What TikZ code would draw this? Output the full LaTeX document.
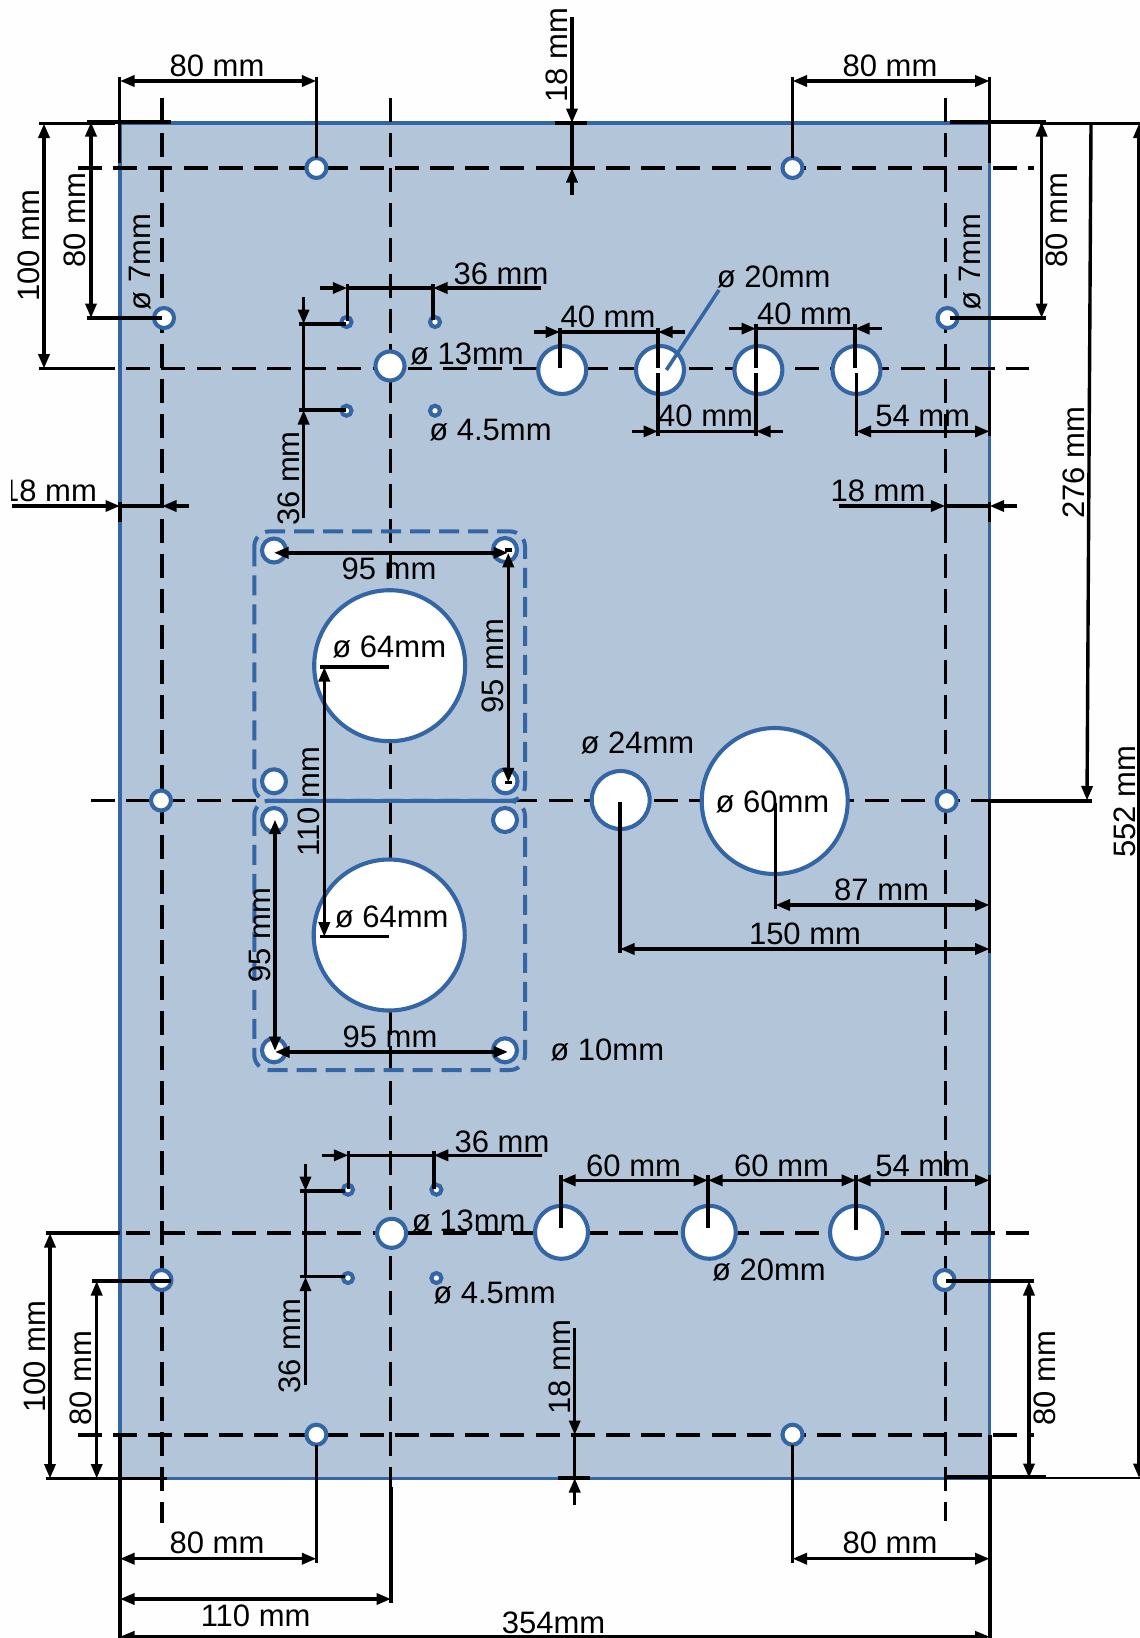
\documentclass[tikz,border=0pt]{standalone}
\usepackage{fontspec}
\setmainfont{Liberation Sans}
\usetikzlibrary{arrows.meta}
\definecolor{paper}{HTML}{FDFEFD}
\definecolor{plate}{HTML}{B3C6D9}
\definecolor{edge}{HTML}{3465A4}
\tikzset{
  ln/.style={line width=3.4pt,black},
  lnt/.style={line width=2.6pt,black},
  cl/.style={line width=3.5pt,black,dash pattern=on 24pt off 11.2pt},
  clv/.style={line width=3.5pt,black,dash pattern=on 24pt off 11.1pt},
  bothends/.style={ln,{Triangle[length=14.5pt,width=11pt]}-{Triangle[length=14.5pt,width=11pt]}},
  oneend/.style={ln,-{Triangle[length=14.5pt,width=11pt]}},
  hole/.style={circle,draw=edge,line width=4.1pt,fill=white,inner sep=0pt,outer sep=0pt},
  lab/.style={inner sep=0pt,outer sep=0pt,font=\fontsize{31}{33}\selectfont,text=black},
  vlab/.style={lab,rotate=90},
  frame/.style={draw=edge,line width=4pt,rounded corners=15pt,dash pattern=on 20pt off 9pt},
}
\newcommand{\hl}[4]{\node[hole,minimum size=#4pt] (#1) at (#2,#3) {};}
\begin{document}
\begin{tikzpicture}[x=1pt,y=-1pt]
\useasboundingbox (0,0) rectangle (1140,1638);
\clip (0,0) rectangle (1140,1638);
\fill[paper] (0,0) rectangle (1140,1638);
% plate
\draw[fill=plate,draw=edge,line width=3.6pt] (120,123) rectangle (989.6,1478.5);
% centre lines
\draw[cl] (78,168) -- (1034,168);
\draw[cl] (91,368.6) -- (1029,368.6);
\draw[cl] (91,800.5) -- (1092,800.5);
\draw[cl] (91,1233) -- (1029,1233);
\draw[cl] (78,1435) -- (1034,1435);
\draw[clv] (161.8,98) -- (161.8,1523);
\draw[clv] (390.5,98) -- (390.5,1487);
\draw[clv] (945.3,98) -- (945.3,1521);
% adapter frames
\draw[frame] (254.3,531.4) rectangle (525,800.8);
\draw[frame] (254.3,800.8) rectangle (525,1070);
\draw[draw=edge,line width=4pt] (265,800.5) -- (512,800.5);
% holes
\hl{a1}{316.4}{168}{20}\hl{a2}{792.5}{168}{20}
\hl{a3}{316.4}{1434.7}{20}\hl{a4}{792.5}{1434.7}{20}
\hl{b1}{164}{318}{20}\hl{b2}{947.5}{318}{20}
\hl{b3}{161}{800.5}{20}\hl{b4}{946.7}{801}{20}
\hl{b5}{161.5}{1280}{20}\hl{b6}{944.5}{1280}{20}
\hl{c1}{346.5}{322}{10}\hl{c2}{435}{322}{10}\hl{c3}{346.5}{410.7}{10}\hl{c4}{435}{410.7}{10}
\hl{c5}{348}{1189.7}{10}\hl{c6}{436.4}{1189.7}{10}\hl{c7}{348}{1278}{10}\hl{c8}{436.4}{1278}{10}
\hl{d1}{390}{366}{29}\hl{d2}{391.6}{1233.3}{29}
\hl{e1}{562.2}{370}{48}\hl{e2}{660}{370}{48}\hl{e3}{758.4}{370}{48}\hl{e4}{856.5}{370}{48}
\hl{e5}{561.5}{1232.3}{53}\hl{e6}{709.3}{1232.3}{53}\hl{e7}{856.5}{1232.3}{53}
\hl{f1}{620.7}{800}{58}\hl{f2}{774.7}{801}{146}
\hl{g1}{389.7}{665.7}{151}\hl{g2}{389.2}{935}{151}
\hl{k1}{274}{550.5}{24}\hl{k2}{505}{550}{24}\hl{k3}{274}{781.3}{24}\hl{k4}{505.5}{781.3}{24}
\hl{k5}{274}{820}{24}\hl{k6}{505}{820}{24}\hl{k7}{274}{1050.3}{24}\hl{k8}{505}{1050.3}{24}
% leader
\draw[draw=edge,line width=3.6pt] (666.4,370) -- (719,290);
% outside extension lines
\draw[ln] (119.6,76.8) -- (119.6,162.5);
\draw[ln] (989.6,76.8) -- (989.6,162.5);
\draw[ln] (316.4,76.8) -- (a1);
\draw[ln] (792.5,76.8) -- (a2);
\draw[bothends] (120,81) -- (316.4,81);
\draw[bothends] (792.5,81) -- (989.6,81);
\draw[ln] (39,123.5) -- (115,123.5);
\draw[ln] (86.5,122) -- (171,122);
\draw[ln] (39,368.6) -- (115,368.6);
\draw[bothends] (44,123.5) -- (44,368.6);
\draw[bothends] (91,122) -- (91,318);
\draw[ln] (86.5,318) -- (162,318);
% top 18
\draw[oneend] (572,17) -- (572,123);
\draw[ln] (572,123) -- (572,168);
\draw[oneend] (572,195) -- (572,168);
\draw[ln] (554.5,123) -- (587,123);
\draw[ln] (554.5,168) -- (587,168);
% right top
\draw[ln] (950,122) -- (1046,122);
\draw[lnt] (1040,123.5) -- (1140,123.5);
\draw[bothends] (1041.6,122) -- (1041.6,318);
\draw[ln] (950,318) -- (1046,318);
\draw[oneend] (1091,123.5) -- (1087,800.5);
\draw[ln] (989.6,801) -- (1092,801);
\draw[bothends] (1139,123.5) -- (1139,1478);
\draw[lnt] (950,1478) -- (1140,1478);
\draw[ln] (944.5,1477) -- (1046,1477);
% left bottom
\draw[ln] (45.5,1233) -- (120,1233);
\draw[ln] (45.5,1478.5) -- (167,1478.5);
\draw[bothends] (50,1233) -- (50,1478.5);
\draw[ln] (92,1281) -- (171,1281);
\draw[bothends] (96.7,1281) -- (96.7,1478.5);
\draw[line width=4pt] (120,1435) -- (120,1638);
\draw[line width=3.8pt] (989.6,1435) -- (989.6,1638);
\draw[ln] (a3) -- (316.4,1563);
\draw[ln] (a4) -- (792.5,1563);
\draw[bothends] (120,1558.7) -- (316.4,1558.7);
\draw[bothends] (792.5,1558.7) -- (989.6,1558.7);
\draw[ln] (391,1487) -- (391,1603);
\draw[bothends] (120,1599) -- (391,1599);
\draw[lnt,{Triangle[length=14.5pt,width=11pt]}-{Triangle[length=14.5pt,width=11pt]}] (120,1636.7) -- (989.6,1636.7);
\draw[ln] (946.4,1281) -- (1033.6,1281);
\draw[bothends] (1029,1281) -- (1029,1478);
% bottom 18
\draw[oneend] (574.7,1328) -- (574.7,1435);
\draw[ln] (574.7,1435) -- (574.7,1478);
\draw[oneend] (574.7,1505) -- (574.7,1478);
\draw[ln] (558,1478) -- (590,1478);
% left and right 18
\draw[oneend] (11.6,506) -- (120,506);
\draw[ln] (120,502) -- (120,522);
\draw[ln] (120,506) -- (162,506);
\draw[oneend] (189,506) -- (162,506);
\draw[oneend] (839,506) -- (945.3,506);
\draw[ln] (945.3,502) -- (945.3,522);
\draw[ln] (945.3,506) -- (989.6,506);
\draw[ln] (989.6,502) -- (989.6,522);
\draw[oneend] (1017,506) -- (989.6,506);
% upper 36
\draw[oneend] (320,288) -- (347.3,288);
\draw[ln] (347.3,288) -- (433,288);
\draw[oneend] (541,288) -- (433,288);
\draw[ln] (347.3,284) -- (347.3,321);
\draw[ln] (433,284) -- (433,320);
\draw[oneend] (303.6,297) -- (303.6,324);
\draw[ln] (303.6,324) -- (303.6,410);
\draw[oneend] (303.6,518) -- (303.6,410);
\draw[ln] (299,324) -- (346,324);
\draw[ln] (299,410) -- (346,410);
% upper 40s
\draw[oneend] (533.5,332) -- (560,332);
\draw[ln] (560,332) -- (658,332);
\draw[oneend] (685,332) -- (658,332);
\draw[ln] (560,327.5) -- (560,368);
\draw[ln] (658,327.5) -- (658,368);
\draw[ln] (658,373) -- (658,436);
\draw[oneend] (632,431.4) -- (658,431.4);
\draw[ln] (658,431.4) -- (756,431.4);
\draw[oneend] (783,431.4) -- (756,431.4);
\draw[ln] (756,324) -- (756,368);
\draw[ln] (756,373) -- (756,436);
\draw[oneend] (729,328.6) -- (756,328.6);
\draw[ln] (756,328.6) -- (855,328.6);
\draw[oneend] (881.6,328.6) -- (855,328.6);
\draw[ln] (855,324) -- (855,368);
\draw[ln] (856.5,373) -- (856.5,436);
\draw[bothends] (856.5,431.4) -- (989.6,431.4);
\draw[ln] (989.6,371) -- (989.6,436);
% adapter dimensions
\draw[bothends] (274,552.8) -- (508,552.8);
\draw[bothends] (508.3,552.8) -- (508.3,782.4);
\draw[ln] (505,550) -- (512,550);
\draw[ln] (505,782.4) -- (512,782.4);
\draw[ln] (320,666.9) -- (389,666.9);
\draw[ln] (320,936.7) -- (389,936.7);
\draw[bothends] (324.3,667) -- (324.3,936.7);
\draw[bothends] (275,819.6) -- (275,1051);
\draw[bothends] (275,1051.9) -- (508,1051.9);
% centre dims
\draw[ln] (620,801.7) -- (620,953);
\draw[bothends] (620,949) -- (989.6,949);
\draw[ln] (775.5,802.7) -- (775.5,909);
\draw[bothends] (775.5,905) -- (989.6,905);
\draw[ln] (989.6,800) -- (989.6,953);
% lower 36
\draw[oneend] (322,1155.3) -- (348.4,1155.3);
\draw[ln] (348.4,1155.3) -- (433.8,1155.3);
\draw[oneend] (542,1155.3) -- (433.8,1155.3);
\draw[ln] (348.4,1150.7) -- (348.4,1189);
\draw[ln] (433.8,1150.7) -- (433.8,1189);
\draw[oneend] (305.5,1164) -- (305.5,1191);
\draw[ln] (305.5,1191) -- (305.5,1276.7);
\draw[oneend] (305.5,1385) -- (305.5,1276.7);
\draw[ln] (300,1191) -- (345,1191);
\draw[ln] (300,1276.7) -- (345,1276.7);
% lower 60s
\draw[ln] (561,1175) -- (561,1228);
\draw[ln] (708,1175) -- (708,1228);
\draw[line width=4.2pt] (856,1175) -- (856,1230);
\draw[ln] (989.6,1175) -- (989.6,1233);
\draw[bothends] (561,1180.3) -- (708,1180.3);
\draw[bothends] (708,1180.3) -- (856,1180.3);
\draw[bothends] (856,1180.3) -- (989.6,1180.3);
% labels
\node[lab] (t01) at (217,66) {80 mm};
\node[lab] (t02) at (890,66) {80 mm};
\node[vlab] (t03) at (29,246) {100 mm};
\node[vlab] (t04) at (75,220) {80 mm};
\node[vlab] (t05) at (140,262) {ø 7mm};
\node[vlab] (t06) at (556.4,55) {18 mm};
\node[vlab] (t07) at (1057,220) {80 mm};
\node[vlab] (t08) at (970,262) {ø 7mm};
\node[vlab] (t09) at (1073.6,462.5) {276 mm};
\node[vlab] (t10) at (1124.5,801.7) {552 mm};
\node[lab] (t11) at (501,274) {36 mm};
\node[vlab] (t12) at (289,478.6) {36 mm};
\node[lab] (t13) at (467,353.6) {ø 13mm};
\node[lab] (t14) at (490.5,430) {ø 4.5mm};
\node[lab] (t15) at (608,317) {40 mm};
\node[lab] (t16) at (804.5,314) {40 mm};
\node[lab] (t17) at (705.6,416) {40 mm};
\node[lab] (t18) at (922.7,416) {54 mm};
\node[lab] (t19) at (773.6,277) {ø 20mm};
\node[lab] (t20) at (49.5,491) {18 mm};
\node[lab] (t21) at (878,491) {18 mm};
\node[lab] (t22) at (389,569) {95 mm};
\node[vlab] (t23) at (493,666.5) {95 mm};
\node[lab] (t24) at (389.3,646.6) {ø 64mm};
\node[lab] (t25) at (391.7,917) {ø 64mm};
\node[vlab] (t26) at (309.3,801.6) {110 mm};
\node[vlab] (t27) at (260,935) {95 mm};
\node[lab] (t28) at (390,1036.5) {95 mm};
\node[lab] (t29) at (607.3,1050) {ø 10mm};
\node[lab] (t30) at (637.5,742.5) {ø 24mm};
\node[lab] (t31) at (772.5,801.7) {ø 60mm};
\node[lab] (t32) at (881.6,890) {87 mm};
\node[lab] (t33) at (805,934) {150 mm};
\node[lab] (t34) at (502,1141.7) {36 mm};
\node[vlab] (t35) at (289.8,1346) {36 mm};
\node[lab] (t36) at (468.7,1221) {ø 13mm};
\node[lab] (t37) at (494.5,1293) {ø 4.5mm};
\node[lab] (t38) at (633.6,1165.7) {60 mm};
\node[lab] (t39) at (781.6,1165.7) {60 mm};
\node[lab] (t40) at (922.7,1165.7) {54 mm};
\node[lab] (t41) at (769,1270) {ø 20mm};
\node[vlab] (t42) at (560,1367) {18 mm};
\node[vlab] (t43) at (34.5,1356.7) {100 mm};
\node[vlab] (t44) at (80.7,1378) {80 mm};
\node[vlab] (t45) at (1045,1378) {80 mm};
\node[lab] (t46) at (217,1543) {80 mm};
\node[lab] (t47) at (890,1543) {80 mm};
\node[lab] (t48) at (255.6,1615.7) {110 mm};
\node[lab] (t49) at (553.6,1622.7) {354mm};
% the picture cuts the first figure of the left 18 mm
\fill[paper] (0,470) rectangle (10.5,503);
\end{tikzpicture}
\end{document}
